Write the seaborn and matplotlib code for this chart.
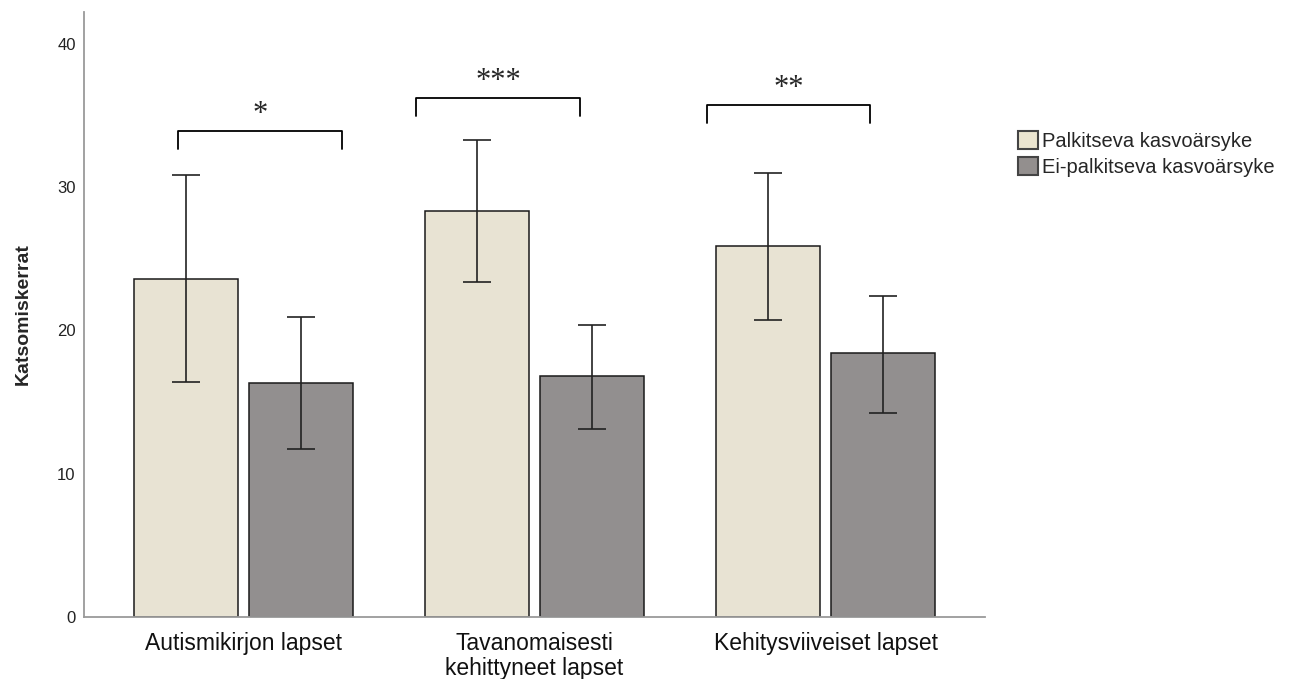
import numpy as np
import matplotlib.pyplot as plt
import seaborn as sns
import pandas as pd
from matplotlib.patches import Patch

# data
groups = ["Autismikirjon lapset", "Tavanomaisesti\nkehittyneet lapset", "Kehitysviiveiset lapset"]
stimuli = ["Palkitseva kasvoärsyke", "Ei-palkitseva kasvoärsyke"]
means_reward = [23.6, 28.3, 25.9]
means_noreward = [16.3, 16.8, 18.4]
ci_low_reward = [16.4, 23.4, 20.7]
ci_high_reward = [30.8, 33.3, 31.0]
ci_low_noreward = [11.7, 13.1, 14.2]
ci_high_noreward = [20.9, 20.4, 22.4]

# significance brackets (x offsets relative to group, y in data units)
sig_labels = ["*", "***", "**"]
bracket_left = [-0.225, -0.407, -0.407]
bracket_right = [0.338, 0.156, 0.153]
bracket_top = [33.9, 36.2, 35.7]

colors = ["#EBE5D0", "#938F8E"]

df = pd.DataFrame({
    "group": groups * 2,
    "stimulus": [stimuli[0]] * 3 + [stimuli[1]] * 3,
    "value": means_reward + means_noreward,
    "lo": ci_low_reward + ci_low_noreward,
    "hi": ci_high_reward + ci_high_noreward,
})

sns.set_style("white")
plt.rcParams['font.family'] = ['Liberation Sans', 'DejaVu Sans']

fig = plt.figure(figsize=(12.92, 6.79), dpi=100)
ax = fig.add_axes([0.065, 0.0913, 0.6974, 0.891])

sns.barplot(data=df, x="group", y="value", hue="stimulus", palette=colors,
            errorbar=None, width=0.79, gap=0.096, edgecolor="#1a1a1a",
            linewidth=1.1, legend=False, ax=ax)

# error bars on top of each bar
bars = [p for p in ax.patches if p.get_height() > 0]
for p in bars:
    cx = p.get_x() + p.get_width() / 2
    h = p.get_height()
    row = df[np.isclose(df["value"], h)].iloc[0]
    ax.errorbar(cx, h, yerr=[[h - row["lo"]], [row["hi"] - h]], fmt="none",
                ecolor="#222222", elinewidth=1.2, capsize=10, capthick=1.2, zorder=5)

# significance brackets
tick = 1.25
for i, lab in enumerate(sig_labels):
    x0, x1, y = i + bracket_left[i], i + bracket_right[i], bracket_top[i]
    ax.plot([x0, x0, x1, x1], [y - tick, y, y, y - tick], color="black", lw=1.3,
            solid_joinstyle="round")
    ax.text((x0 + x1) / 2, y + 1.15, lab, ha="center", va="center", fontsize=22,
            family="Liberation Serif")

ax.set_xlim(-0.548, 2.548)
ax.set_ylim(0, 42.2)
ax.set_yticks([0, 10, 20, 30, 40])
ax.tick_params(axis="y", labelsize=12, length=0, pad=6, colors="#222222")
ax.tick_params(axis="x", labelsize=16.5, length=0, pad=11, colors="#111111")
for t in ax.get_xticklabels():
    t.set_linespacing(1.1)
ax.set_xlabel("")
ax.set_ylabel("Katsomiskerrat", fontsize=14, fontweight="bold", labelpad=18)

for s in ["top", "right"]:
    ax.spines[s].set_visible(False)
for s in ["left", "bottom"]:
    ax.spines[s].set_color("#9a9a9a")
    ax.spines[s].set_linewidth(1.3)

handles = [Patch(facecolor=c, edgecolor="#444444", linewidth=1.5) for c in colors]
fig.legend(handles, stimuli, loc="upper left", bbox_to_anchor=(1018 / 1292, 1 - 131 / 679),
           frameon=False, handlelength=1.0, handleheight=1.0,
           handletextpad=0.2, labelspacing=0.3, borderaxespad=0, borderpad=0,
           prop={"family": "Liberation Sans", "size": 14.5})

fig.savefig("out.png", dpi=100)
